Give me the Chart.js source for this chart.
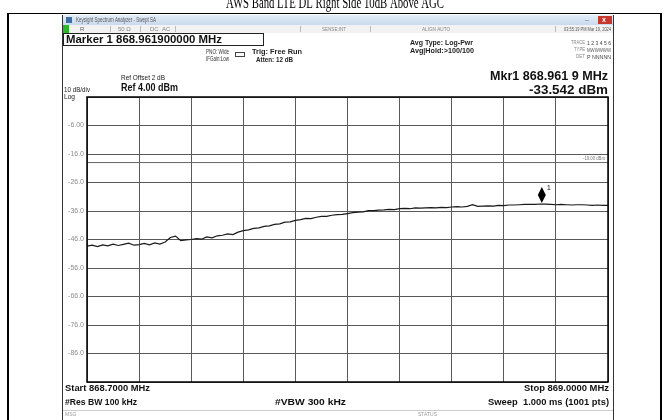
<!DOCTYPE html>
<html>
<head>
<meta charset="utf-8">
<script src="https://cdn.jsdelivr.net/npm/chart.js@4.4.1/dist/chart.umd.min.js"></script>
<style>
  html, body { margin: 0; padding: 0; background: #fff; }
  canvas { display: block; }
</style>
</head>
<body>
<canvas id="sa" width="671" height="420"></canvas>
<script>
// sweep settings (MHz) and levels (dBm)
const startFreq = 868.7;
const stopFreq = 869.0;
const freqDivs = 10;
const refLevel = 4;
const bottomLevel = -96;
const yTickValues = [4, -6, -16, -26, -36, -46, -56, -66, -76, -86, -96];
const yTickLabels = ['', '-6.00', '-16.0', '-26.0', '-36.0', '-46.0', '-56.0', '-66.0', '-76.0', '-86.0', ''];
const displayLine = -19;
const markerFreq = 868.9619;
const markerLevel = -33.542;

// trace, 101 points across the sweep
const traceLevels = [
  -48.3, -48.0, -48.5, -47.9, -48.2, -47.6, -48.1, -47.7, -47.3, -48.0,
  -47.8, -47.4, -47.9, -47.2, -47.6, -46.9, -45.3, -44.8, -46.4, -46.1,
  -46.0, -45.7, -45.9, -45.1, -45.4, -44.7, -44.5, -44.0, -44.3, -43.4,
  -42.9, -42.6, -42.1, -41.9, -41.4, -41.2, -40.7, -40.5, -39.9, -39.8,
  -39.3, -39.0, -38.6, -38.7, -38.2, -37.9, -37.9, -37.5, -37.3, -37.2,
  -36.9, -36.6, -36.4, -36.3, -35.9, -35.9, -35.7, -35.6, -35.4, -35.5,
  -35.2, -35.1, -35.2, -34.9, -35.0, -34.9, -34.8, -34.9, -34.7, -34.8,
  -34.6, -34.5, -34.6, -34.4, -33.8, -34.4, -34.3, -34.2, -34.3, -34.0,
  -34.1, -33.9, -33.9, -33.8, -33.7, -33.7, -33.65, -33.55, -33.6, -33.7,
  -33.8, -33.7, -33.8, -33.9, -33.8, -33.8, -33.9, -34.0, -33.9, -34.0,
  -34.0
];

const step = (stopFreq - startFreq) / (traceLevels.length - 1);
const tracePoints = traceLevels.map((v, i) => ({ x: startFreq + i * step, y: v }));

// draw a string squeezed/stretched to a given width
function txt(ctx, s, x, y, font, color, w, align) {
  ctx.save();
  ctx.font = font;
  ctx.fillStyle = color;
  ctx.textBaseline = 'middle';
  ctx.textAlign = 'left';
  const mw = ctx.measureText(s).width;
  const k = w ? w / mw : 1;
  const left = align === 'right' ? x - mw * k : x;
  ctx.translate(left, y);
  ctx.scale(k, 1);
  ctx.fillText(s, 0, 0);
  ctx.restore();
}

const decor = {
  id: 'decor',
  beforeDraw(chart) {
    const ctx = chart.ctx;
    ctx.save();
    ctx.fillStyle = '#fff';
    ctx.fillRect(0, 0, 671, 420);

    // document table around the screenshot
    txt(ctx, 'AWS Band LTE DL Right Side 10dB Above AGC', 226, 4, '16px "Liberation Serif"', '#000', 218);
    ctx.fillStyle = '#fff';
    ctx.fillRect(0, 13, 671, 2);
    ctx.fillStyle = '#000';
    ctx.fillRect(7, 14, 2, 406);
    ctx.fillRect(660, 14, 2, 406);
    ctx.fillRect(7, 13, 655, 1);

    // window title bar
    const g = ctx.createLinearGradient(0, 15, 0, 25);
    g.addColorStop(0, '#e4edf8');
    g.addColorStop(1, '#c9d9ee');
    ctx.fillStyle = g;
    ctx.fillRect(63, 15, 550, 10);
    ctx.fillStyle = '#3a6ea5';
    ctx.fillRect(66, 17, 6, 6);
    txt(ctx, 'Keysight Spectrum Analyzer - Swept SA', 76, 20, '7px "Liberation Sans"', '#555', 80);
    ctx.fillStyle = '#c8372d';
    ctx.fillRect(598, 16, 14, 8);
    txt(ctx, 'x', 602, 20, 'bold 7px "Liberation Sans"', '#fff');
    txt(ctx, '–', 585, 20, '7px "Liberation Sans"', '#777');

    // status row
    ctx.fillStyle = '#f2f2f2';
    ctx.fillRect(63, 25, 550, 8);
    ctx.fillStyle = '#2bb52b';
    ctx.fillRect(63, 25, 6, 8);
    ctx.fillStyle = '#bbb';
    [110, 140, 175, 300, 370, 555].forEach(x => ctx.fillRect(x, 26, 1, 6));
    txt(ctx, 'R', 80, 29, '6px "Liberation Sans"', '#666');
    txt(ctx, '50 Ω', 118, 29, '6px "Liberation Sans"', '#888');
    txt(ctx, 'DC  AC', 150, 29, '6px "Liberation Sans"', '#888');
    txt(ctx, 'SENSE:INT', 322, 29, '6px "Liberation Sans"', '#888', 24);
    txt(ctx, 'ALIGN AUTO', 422, 29, '6px "Liberation Sans"', '#888', 28);
    txt(ctx, '03:55:19 PM Mar 19, 2024', 611, 29, '6px "Liberation Sans"', '#555', 47, 'right');

    // marker box
    ctx.strokeStyle = '#222';
    ctx.lineWidth = 1;
    ctx.strokeRect(63.5, 33.5, 200, 12);
    txt(ctx, 'Marker 1 868.961900000 MHz', 66, 40, 'bold 11px "Liberation Sans"', '#111', 156);

    txt(ctx, 'PNO: Wide', 206, 52, '6.5px "Liberation Sans"', '#333', 23);
    txt(ctx, 'IFGain:Low', 206, 59, '6.5px "Liberation Sans"', '#333', 23);
    ctx.strokeStyle = '#444';
    ctx.strokeRect(235.5, 52.5, 9, 4);
    txt(ctx, 'Trig: Free Run', 252, 52, 'bold 7.5px "Liberation Sans"', '#222', 50);
    txt(ctx, 'Atten: 12 dB', 256, 60, 'bold 7px "Liberation Sans"', '#222', 37);
    txt(ctx, 'Avg Type: Log-Pwr', 410, 43, 'bold 7.5px "Liberation Sans"', '#222', 63);
    txt(ctx, 'Avg|Hold:>100/100', 410, 51, 'bold 7px "Liberation Sans"', '#222', 64);

    txt(ctx, 'TRACE', 585, 43, '5px "Liberation Sans"', '#888', 14, 'right');
    txt(ctx, 'TYPE', 585, 50, '5px "Liberation Sans"', '#888', 11, 'right');
    txt(ctx, 'DET', 585, 57, '5px "Liberation Sans"', '#888', 9, 'right');
    txt(ctx, '1 2 3 4 5 6', 587, 43, '6px "Liberation Sans"', '#444', 24);
    txt(ctx, 'MWWWWW', 587, 50, '5.5px "Liberation Sans"', '#555', 24);
    txt(ctx, 'P NNNNN', 587, 57, '6px "Liberation Sans"', '#444', 24);

    // reference info
    txt(ctx, 'Ref Offset 2 dB', 121, 78, '7.5px "Liberation Sans"', '#222', 44);
    txt(ctx, 'Ref 4.00 dBm', 121, 88, 'bold 10px "Liberation Sans"', '#111', 57);
    txt(ctx, '10 dB/div', 64, 90, '7.5px "Liberation Sans"', '#222', 26);
    txt(ctx, 'Log', 64, 97, '7px "Liberation Sans"', '#222', 11);
    txt(ctx, 'Mkr1 868.961 9 MHz', 608, 77, 'bold 12px "Liberation Sans"', '#111', 118, 'right');
    txt(ctx, '-33.542 dBm', 608, 91, 'bold 12px "Liberation Sans"', '#111', 79, 'right');

    // bottom info
    txt(ctx, 'Start 868.7000 MHz', 65, 388, 'bold 9.5px "Liberation Sans"', '#111', 85);
    txt(ctx, 'Stop 869.0000 MHz', 609, 388, 'bold 9.5px "Liberation Sans"', '#111', 85, 'right');
    txt(ctx, '#Res BW 100 kHz', 65, 402, 'bold 9.5px "Liberation Sans"', '#111', 72);
    txt(ctx, '#VBW 300 kHz', 275, 402, 'bold 9.5px "Liberation Sans"', '#111', 71);
    txt(ctx, 'Sweep  1.000 ms (1001 pts)', 609, 402, 'bold 9.5px "Liberation Sans"', '#111', 121, 'right');
    ctx.fillStyle = '#ccc';
    ctx.fillRect(63, 410, 550, 1);
    txt(ctx, 'MSG', 65, 415, '5px "Liberation Sans"', '#999');
    txt(ctx, 'STATUS', 418, 415, '5px "Liberation Sans"', '#999');

    // screenshot frame
    ctx.fillStyle = '#333';
    ctx.fillRect(62, 15, 1, 405);
    ctx.fillRect(613, 15, 1, 405);
    ctx.restore();
  },
  afterDatasetsDraw(chart) {
    const ctx = chart.ctx;
    const a = chart.chartArea;
    const xs = chart.scales.x, ys = chart.scales.y;
    ctx.save();
    ctx.strokeStyle = '#000';
    ctx.lineWidth = 1.5;
    ctx.strokeRect(a.left, a.top, a.right - a.left, a.bottom - a.top);

    txt(ctx, '-19.00 dBm', a.right - 3, ys.getPixelForValue(displayLine) - 4, '5px "Liberation Sans"', '#777', 22, 'right');

    // marker diamond sitting on the trace
    const mx = xs.getPixelForValue(markerFreq);
    const my = ys.getPixelForValue(markerLevel) - 1;
    ctx.fillStyle = '#000';
    ctx.beginPath();
    ctx.moveTo(mx, my);
    ctx.lineTo(mx + 4, my - 8);
    ctx.lineTo(mx, my - 16);
    ctx.lineTo(mx - 4, my - 8);
    ctx.closePath();
    ctx.fill();
    txt(ctx, '1', mx + 5, my - 15, '7.5px "Liberation Sans"', '#222');
    ctx.restore();
  }
};

new Chart(document.getElementById('sa').getContext('2d'), {
  type: 'line',
  data: {
    datasets: [
      {
        label: 'Trace 1',
        data: tracePoints,
        borderColor: '#1a1a1a',
        borderWidth: 1.2,
        pointRadius: 0,
        tension: 0
      },
      {
        label: 'Display line',
        data: [{ x: startFreq, y: displayLine }, { x: stopFreq, y: displayLine }],
        borderColor: '#666',
        borderWidth: 1,
        pointRadius: 0
      }
    ]
  },
  plugins: [decor],
  options: {
    responsive: false,
    animation: false,
    devicePixelRatio: 1,
    layout: { padding: { left: 62, right: 63, top: 97, bottom: 38 } },
    plugins: {
      legend: { display: false },
      tooltip: { enabled: false }
    },
    scales: {
      x: {
        type: 'linear',
        min: startFreq,
        max: stopFreq,
        afterBuildTicks: s => {
          const t = [];
          for (let i = 0; i <= freqDivs; i++) t.push({ value: startFreq + (stopFreq - startFreq) * i / freqDivs });
          s.ticks = t;
        },
        afterFit: s => { s.height = 0; },
        ticks: { display: false },
        grid: { color: '#5a5a5a', lineWidth: 1, drawTicks: false },
        border: { display: false }
      },
      y: {
        type: 'linear',
        min: bottomLevel,
        max: refLevel,
        afterBuildTicks: s => { s.ticks = yTickValues.map(v => ({ value: v })); },
        afterFit: s => { s.width = 25; },
        ticks: {
          padding: 3,
          color: '#8c8c8c',
          font: { family: 'Liberation Sans', size: 7 },
          callback: v => yTickLabels[yTickValues.indexOf(v)]
        },
        grid: { color: '#5a5a5a', lineWidth: 1, drawTicks: false },
        border: { display: false }
      }
    }
  }
});
</script>
</body>
</html>
